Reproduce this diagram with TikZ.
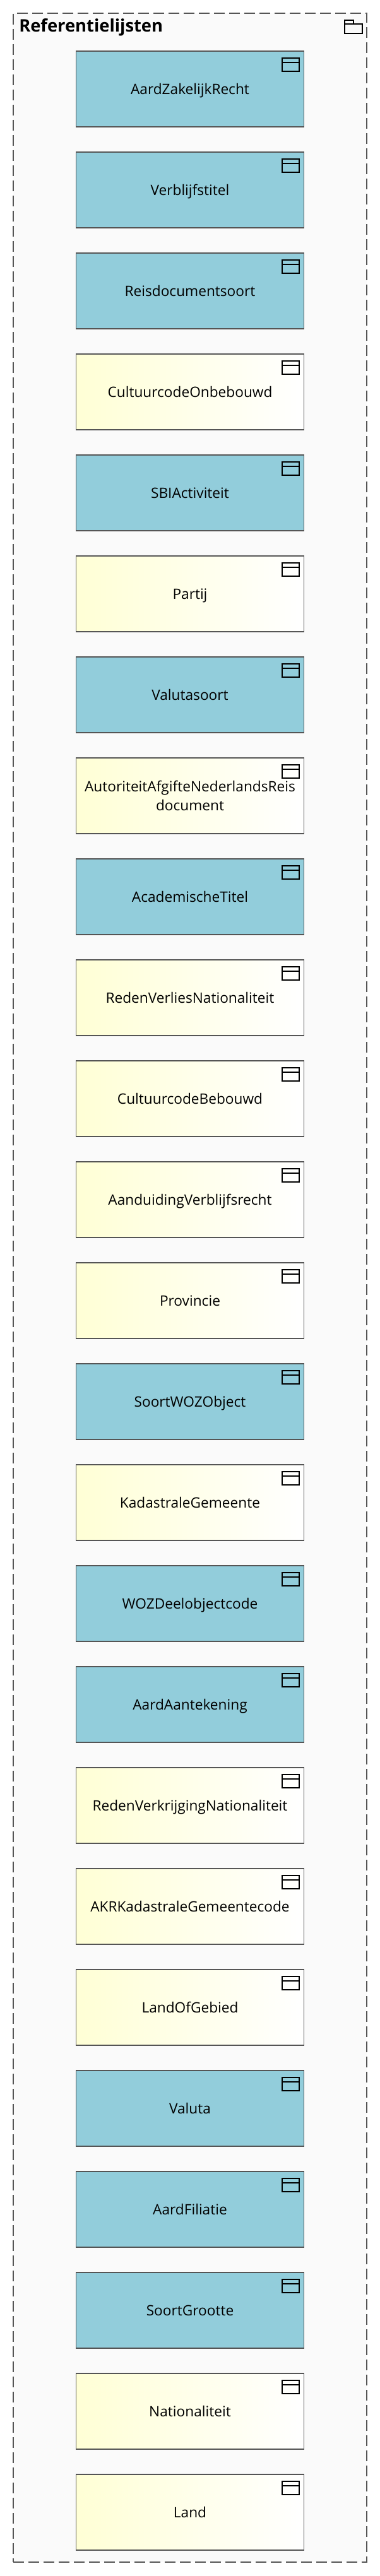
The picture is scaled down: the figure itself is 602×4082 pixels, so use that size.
\documentclass[tikz,border=0pt]{standalone}
\usepackage{xcolor}
\usepackage{fontspec}
\setmainfont{Open Sans}
\usetikzlibrary{positioning}
\definecolor{rand}{HTML}{555555}
\definecolor{grijsvlak}{HTML}{FAFAFA}
\definecolor{blauwvlak}{HTML}{92CDDB}
\definecolor{geelvlak}{HTML}{FFFFD5}

\begin{document}
\begin{tikzpicture}[x=0.75pt, y=0.75pt, node distance=30pt,
	objectvak/.style={draw=rand, line width=1.25pt, rectangle, outer sep=0pt, minimum width=270.75pt, minimum height=90pt,
		align=center, inner sep=0pt, text height=13pt, text depth=0pt, font=\fontsize{17}{22.5}\selectfont,
		path picture={\draw[black, line width=1.5pt] ([shift={(-35,-11)}]path picture bounding box.north east) rectangle ([shift={(-7.5,-32)}]path picture bounding box.north east);
			\draw[black, line width=1.5pt] ([shift={(-35,-18)}]path picture bounding box.north east) -- ([shift={(-7.5,-18)}]path picture bounding box.north east);}},
	blauwobject/.style={objectvak, fill=blauwvlak},
	geelobject/.style={objectvak, left color=geelvlak, right color=white},
	groepvak/.style={draw=rand, line width=1.25pt, dash pattern=on 12.75pt off 5.25pt, fill=grijsvlak, rectangle, outer sep=0pt, minimum width=420pt, minimum height=3029.25pt}]
	\useasboundingbox (0,0) rectangle (602,-4082);

	% Group with its title and folder sign
	\node[groepvak] (referentielijsten) at (301,-2040.5) {};
	\node[anchor=base west, inner sep=0pt, font=\fontsize{20.5}{24}\selectfont\bfseries] (groeptitel) at (30,-51) {Referentielijsten};
	\draw[black, line width=1.5pt] (546,-38) rectangle (574,-53);
	\draw[black, line width=1.5pt] (546,-38) -- (546,-32) -- (560,-32) -- (560,-38);

	% Lists, top to bottom
	\node[blauwobject] (aardzakelijkrecht) at (301,-141) {AardZakelijkRecht};
	\node[blauwobject, below=of aardzakelijkrecht] (verblijfstitel) {Verblijfstitel};
	\node[blauwobject, below=of verblijfstitel] (reisdocumentsoort) {Reisdocumentsoort};
	\node[geelobject, below=of reisdocumentsoort] (cultuurcodeonbebouwd) {CultuurcodeOnbebouwd};
	\node[blauwobject, below=of cultuurcodeonbebouwd] (sbiactiviteit) {SBIActiviteit};
	\node[geelobject, below=of sbiactiviteit] (partij) {Partij};
	\node[blauwobject, below=of partij] (valutasoort) {Valutasoort};
	\node[geelobject, below=of valutasoort, text height=, text depth=] (autoriteitafgifte) {AutoriteitAfgifteNederlandsReis\\document};
	\node[blauwobject, below=of autoriteitafgifte] (academischetitel) {AcademischeTitel};
	\node[geelobject, below=of academischetitel] (redenverlies) {RedenVerliesNationaliteit};
	\node[geelobject, below=of redenverlies] (cultuurcodebebouwd) {CultuurcodeBebouwd};
	\node[geelobject, below=of cultuurcodebebouwd] (aanduidingverblijfsrecht) {AanduidingVerblijfsrecht};
	\node[geelobject, below=of aanduidingverblijfsrecht] (provincie) {Provincie};
	\node[blauwobject, below=of provincie] (soortwozobject) {SoortWOZObject};
	\node[geelobject, below=of soortwozobject] (kadastralegemeente) {KadastraleGemeente};
	\node[blauwobject, below=of kadastralegemeente] (wozdeelobjectcode) {WOZDeelobjectcode};
	\node[blauwobject, below=of wozdeelobjectcode] (aardaantekening) {AardAantekening};
	\node[geelobject, below=of aardaantekening] (redenverkrijging) {RedenVerkrijgingNationaliteit};
	\node[geelobject, below=of redenverkrijging] (akrkadastrale) {AKRKadastraleGemeentecode};
	\node[geelobject, below=of akrkadastrale] (landofgebied) {LandOfGebied};
	\node[blauwobject, below=of landofgebied] (valuta) {Valuta};
	\node[blauwobject, below=of valuta] (aardfiliatie) {AardFiliatie};
	\node[blauwobject, below=of aardfiliatie] (soortgrootte) {SoortGrootte};
	\node[geelobject, below=of soortgrootte] (nationaliteit) {Nationaliteit};
	\node[geelobject, below=of nationaliteit] (land) {Land};
\end{tikzpicture}
\end{document}
